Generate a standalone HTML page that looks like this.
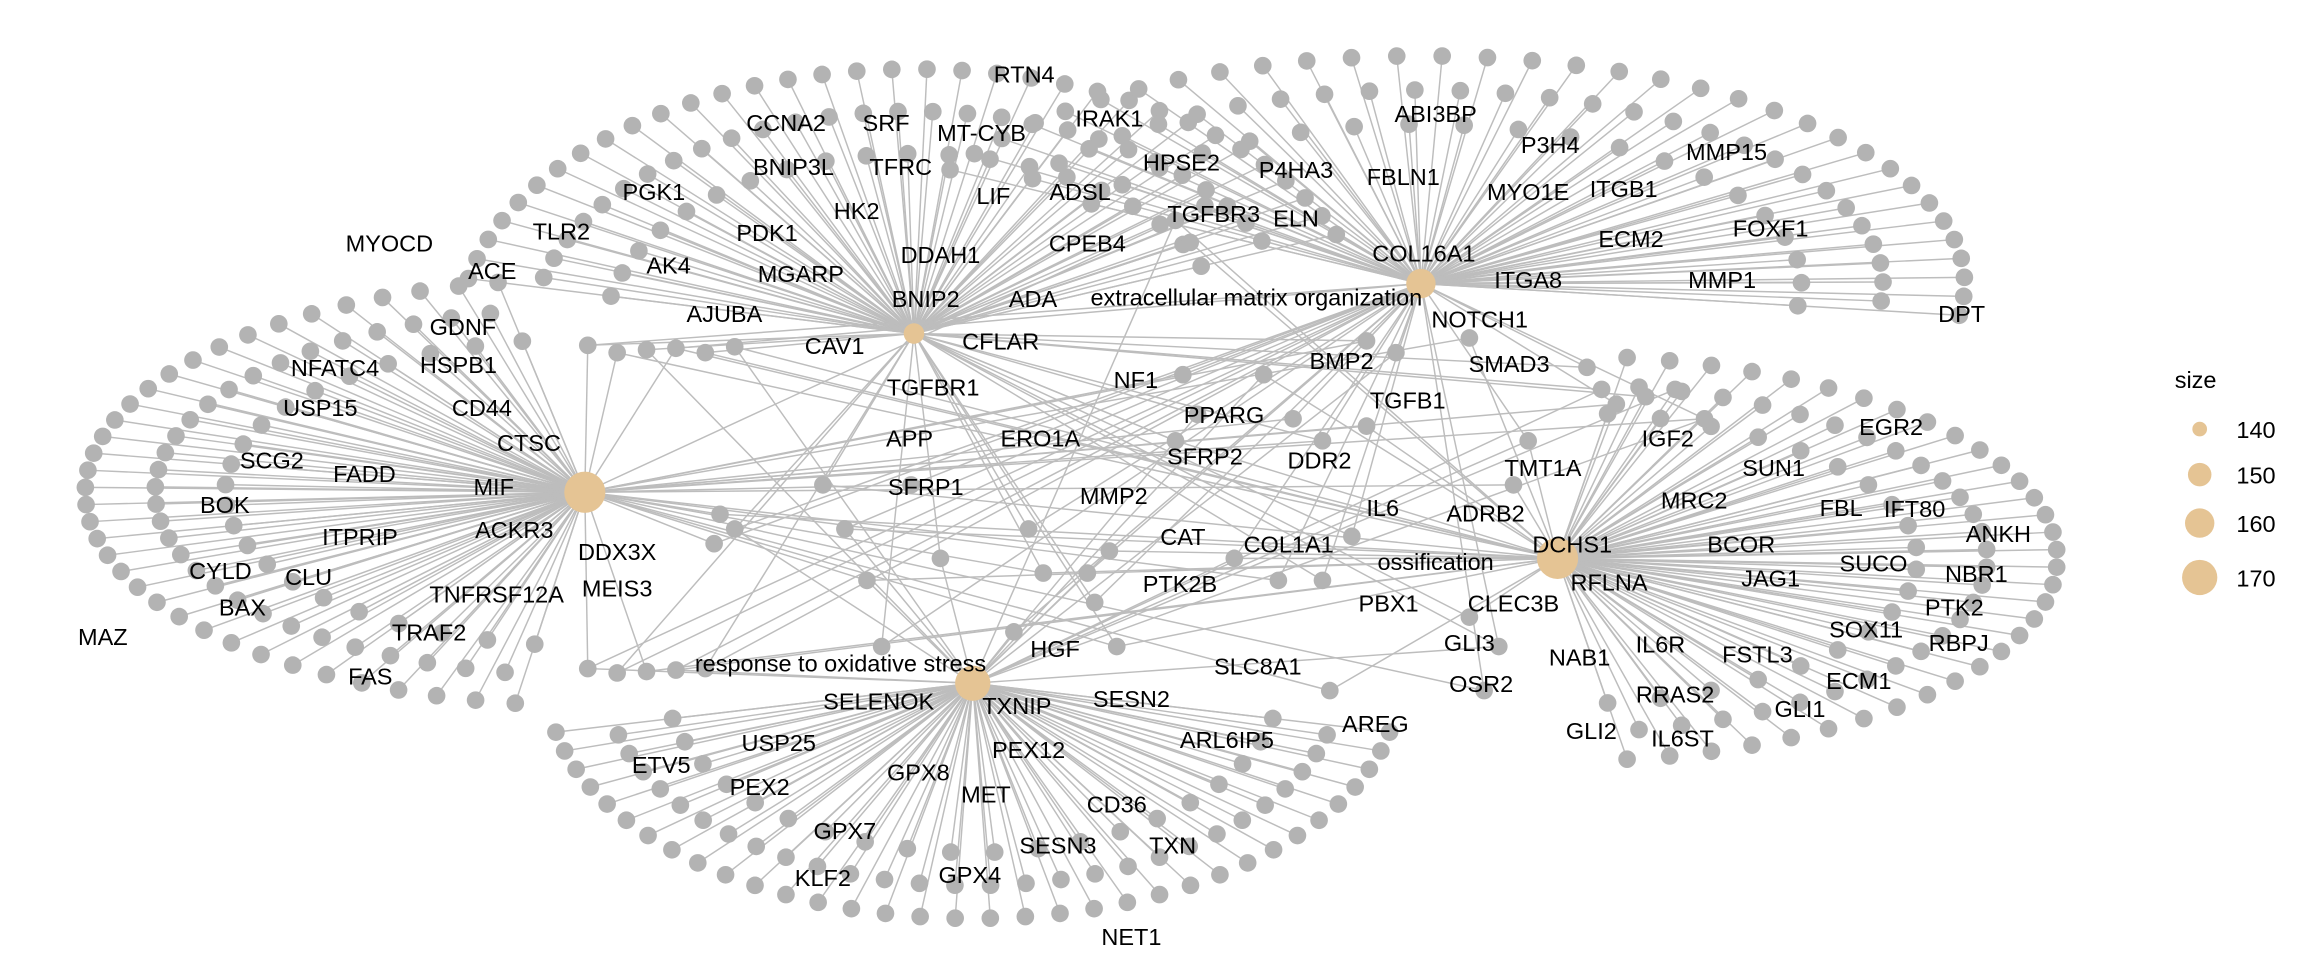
<!DOCTYPE html>
<html><head><meta charset="utf-8">
<style>
html,body{margin:0;padding:0;background:#fff;}
svg{display:block;}
text{font-family:"Liberation Sans",Arial,sans-serif;font-size:16px;fill:#000;}
</style></head>
<body>
<svg id="s" width="2304" height="960" viewBox="0 0 2304 960" xmlns="http://www.w3.org/2000/svg">
<rect width="2304" height="960" fill="#fff"/>
<g transform="scale(1.4694)">
<g id="edges" stroke="#bdbdbd" stroke-width="1" fill="none"></g>
<g id="nodes" fill="#b3b3b3"></g>
<g id="hubs" fill="#e5c494">
<circle cx="622" cy="227" r="7"/>
<circle cx="967" cy="193" r="10"/>
<circle cx="398" cy="335" r="14"/>
<circle cx="1060" cy="380" r="14"/>
<circle cx="662" cy="465" r="12"/>
</g>
<g id="labels" text-anchor="middle">
<text x="697" y="56">RTN4</text><text x="535" y="89">CCNA2</text><text x="603" y="89">SRF</text>
<text x="668" y="96">MT-CYB</text><text x="755" y="86">IRAK1</text><text x="540" y="119">BNIP3L</text>
<text x="613" y="119">TFRC</text><text x="445" y="136">PGK1</text><text x="583" y="149">HK2</text>
<text x="676" y="139">LIF</text><text x="735" y="136">ADSL</text><text x="265" y="171">MYOCD</text>
<text x="382" y="163">TLR2</text><text x="522" y="164">PDK1</text><text x="640" y="179">DDAH1</text>
<text x="740" y="171">CPEB4</text><text x="335" y="190">ACE</text><text x="455" y="186">AK4</text>
<text x="545" y="192">MGARP</text><text x="703" y="209">ADA</text><text x="630" y="209">BNIP2</text>
<text x="493" y="219">AJUBA</text><text x="804" y="116">HPSE2</text><text x="882" y="121">P4HA3</text>
<text x="826" y="151">TGFBR3</text><text x="955" y="126">FBLN1</text><text x="882" y="154">ELN</text>
<text x="977" y="83">ABI3BP</text><text x="1055" y="104">P3H4</text><text x="1040" y="136">MYO1E</text>
<text x="1105" y="134">ITGB1</text><text x="1175" y="109">MMP15</text><text x="1110" y="168">ECM2</text>
<text x="1205" y="161">FOXF1</text><text x="969" y="178">COL16A1</text><text x="1040" y="196">ITGA8</text>
<text x="1172" y="196">MMP1</text><text x="1335" y="219">DPT</text>
<text x="855" y="208">extracellular matrix organization</text>
<text x="1007" y="223">NOTCH1</text><text x="315" y="228">GDNF</text><text x="228" y="256">NFATC4</text>
<text x="312" y="254">HSPB1</text><text x="568" y="241">CAV1</text><text x="681" y="238">CFLAR</text>
<text x="913" y="251">BMP2</text><text x="1027" y="253">SMAD3</text><text x="218" y="283">USP15</text>
<text x="328" y="283">CD44</text><text x="635" y="269">TGFBR1</text><text x="773" y="264">NF1</text>
<text x="958" y="278">TGFB1</text><text x="833" y="288">PPARG</text><text x="360" y="307">CTSC</text>
<text x="619" y="304">APP</text><text x="708" y="304">ERO1A</text><text x="820" y="316">SFRP2</text>
<text x="898" y="319">DDR2</text><text x="185" y="319">SCG2</text><text x="248" y="328">FADD</text>
<text x="1050" y="324">TMT1A</text><text x="1135" y="304">IGF2</text><text x="1207" y="324">SUN1</text>
<text x="1287" y="296">EGR2</text><text x="336" y="337">MIF</text><text x="630" y="337">SFRP1</text>
<text x="758" y="343">MMP2</text><text x="1153" y="346">MRC2</text><text x="153" y="349">BOK</text>
<text x="941" y="351">IL6</text><text x="1011" y="355">ADRB2</text><text x="1070" y="376">DCHS1</text>
<text x="1303" y="352">IFT80</text><text x="1360" y="369">ANKH</text><text x="1253" y="351">FBL</text>
<text x="1185" y="376">BCOR</text><text x="245" y="371">ITPRIP</text><text x="350" y="366">ACKR3</text>
<text x="420" y="381">DDX3X</text><text x="805" y="371">CAT</text><text x="877" y="376">COL1A1</text>
<text x="977" y="388">ossification</text><text x="1205" y="399">JAG1</text><text x="1275" y="389">SUCO</text>
<text x="1345" y="396">NBR1</text><text x="150" y="394">CYLD</text><text x="210" y="398">CLU</text>
<text x="420" y="406">MEIS3</text><text x="803" y="403">PTK2B</text><text x="1095" y="402">RFLNA</text>
<text x="165" y="419">BAX</text><text x="338" y="410">TNFRSF12A</text><text x="945" y="416">PBX1</text>
<text x="1030" y="416">CLEC3B</text><text x="1330" y="419">PTK2</text><text x="70" y="439">MAZ</text>
<text x="292" y="436">TRAF2</text><text x="1270" y="434">SOX11</text><text x="1333" y="443">RBPJ</text>
<text x="718" y="447">HGF</text><text x="1000" y="443">GLI3</text><text x="1130" y="444">IL6R</text>
<text x="1196" y="451">FSTL3</text><text x="1265" y="469">ECM1</text><text x="252" y="466">FAS</text>
<text x="572" y="457">response to oxidative stress</text><text x="856" y="459">SLC8A1</text>
<text x="1008" y="471">OSR2</text><text x="1075" y="453">NAB1</text><text x="1140" y="478">RRAS2</text>
<text x="1225" y="488">GLI1</text><text x="598" y="483">SELENOK</text><text x="692" y="486">TXNIP</text>
<text x="770" y="481">SESN2</text><text x="936" y="498">AREG</text><text x="1083" y="503">GLI2</text>
<text x="1145" y="508">IL6ST</text><text x="835" y="509">ARL6IP5</text><text x="530" y="511">USP25</text>
<text x="700" y="516">PEX12</text><text x="450" y="526">ETV5</text><text x="517" y="541">PEX2</text>
<text x="625" y="531">GPX8</text><text x="671" y="546">MET</text><text x="760" y="553">CD36</text>
<text x="575" y="571">GPX7</text><text x="720" y="581">SESN3</text><text x="798" y="581">TXN</text>
<text x="560" y="603">KLF2</text><text x="660" y="601">GPX4</text><text x="770" y="643">NET1</text>
</g>
<g id="legend">
<text x="1480" y="264">size</text>
<circle cx="1497" cy="292" r="5" fill="#e5c494"/><text x="1522" y="298">140</text>
<circle cx="1497" cy="323" r="8" fill="#e5c494"/><text x="1522" y="329">150</text>
<circle cx="1497" cy="356" r="10" fill="#e5c494"/><text x="1522" y="362">160</text>
<circle cx="1497" cy="393" r="12" fill="#e5c494"/><text x="1522" y="399">170</text>
</g>
</g>
</svg>
<script>
(function(){
var NS="http://www.w3.org/2000/svg";
var E=document.getElementById("edges"),N=document.getElementById("nodes");
var hubs=[[622,227],[967,193],[398,335],[1060,380],[662,465]];
function line(a,b){var l=document.createElementNS(NS,"line");l.setAttribute("x1",a[0]);l.setAttribute("y1",a[1]);l.setAttribute("x2",b[0]);l.setAttribute("y2",b[1]);E.appendChild(l);}
function dot(p){var c=document.createElementNS(NS,"circle");c.setAttribute("cx",p[0]);c.setAttribute("cy",p[1]);c.setAttribute("r",6);N.appendChild(c);}
// fans: hub index, a0, a1 (deg, y-up), rx, ry, rings
var fans=[
 [0,168,22,310,180,[[1,34],[0.84,28],[0.68,20]]],
 [1,150,-8,370,155,[[1,34],[0.85,28],[0.7,20]]],
 [2,100,262,340,145,[[1,36],[0.86,30],[0.72,22]]],
 [3,82,-82,340,138,[[1,34],[0.86,28],[0.72,20]]],
 [4,192,348,290,160,[[1,34],[0.86,28],[0.72,20]]]
];
fans.forEach(function(f){
 var h=hubs[f[0]];
 f[5].forEach(function(r,ri){
  var n=r[1];
  for(var i=0;i<n;i++){
   var t=(i+ (ri%2?0.5:0))/(n-1+(ri%2?1:0));
   var a=(f[1]+(f[2]-f[1])*t)*Math.PI/180;
   var p=[h[0]+Math.cos(a)*f[3]*r[0],h[1]-Math.sin(a)*f[4]*r[0]];
   line(h,p);dot(p);
  }
 });
});
// shared middle nodes
var mid=[[400,235],[420,240],[440,238],[460,237],[480,240],[500,236],[400,455],[420,458],[440,457],[460,456],[480,455],[490,350],[500,360],[486,370],
[560,330],[575,360],[620,330],[700,360],[710,390],[740,390],[745,410],[755,375],[815,282],[805,255],[800,300],[860,255],[880,285],[900,300],[930,290],
[950,240],[930,232],[1000,230],[1090,265],[1100,275],[1120,270],[1140,265],[1160,285],[1080,250],[1030,330],[1040,300],[900,395],[905,470],
[1020,440],[1010,470],[1000,420],[840,380],[870,395],[920,365],[760,440],[690,430],[600,440],[590,395],[640,380],[820,140],[810,165],[800,150]];
var seq=[0,2,4,1,3,4,2,0,3,1];
mid.forEach(function(p,i){
 var a=seq[i%10],b=seq[(i+3)%10];if(a==b)b=(a+1)%5;
 line(hubs[a],p);line(hubs[b],p);
 if(i%3==0){var c=(a+2)%5;line(hubs[c],p);}
});
mid.forEach(dot);
})();
</script>
</body></html>
